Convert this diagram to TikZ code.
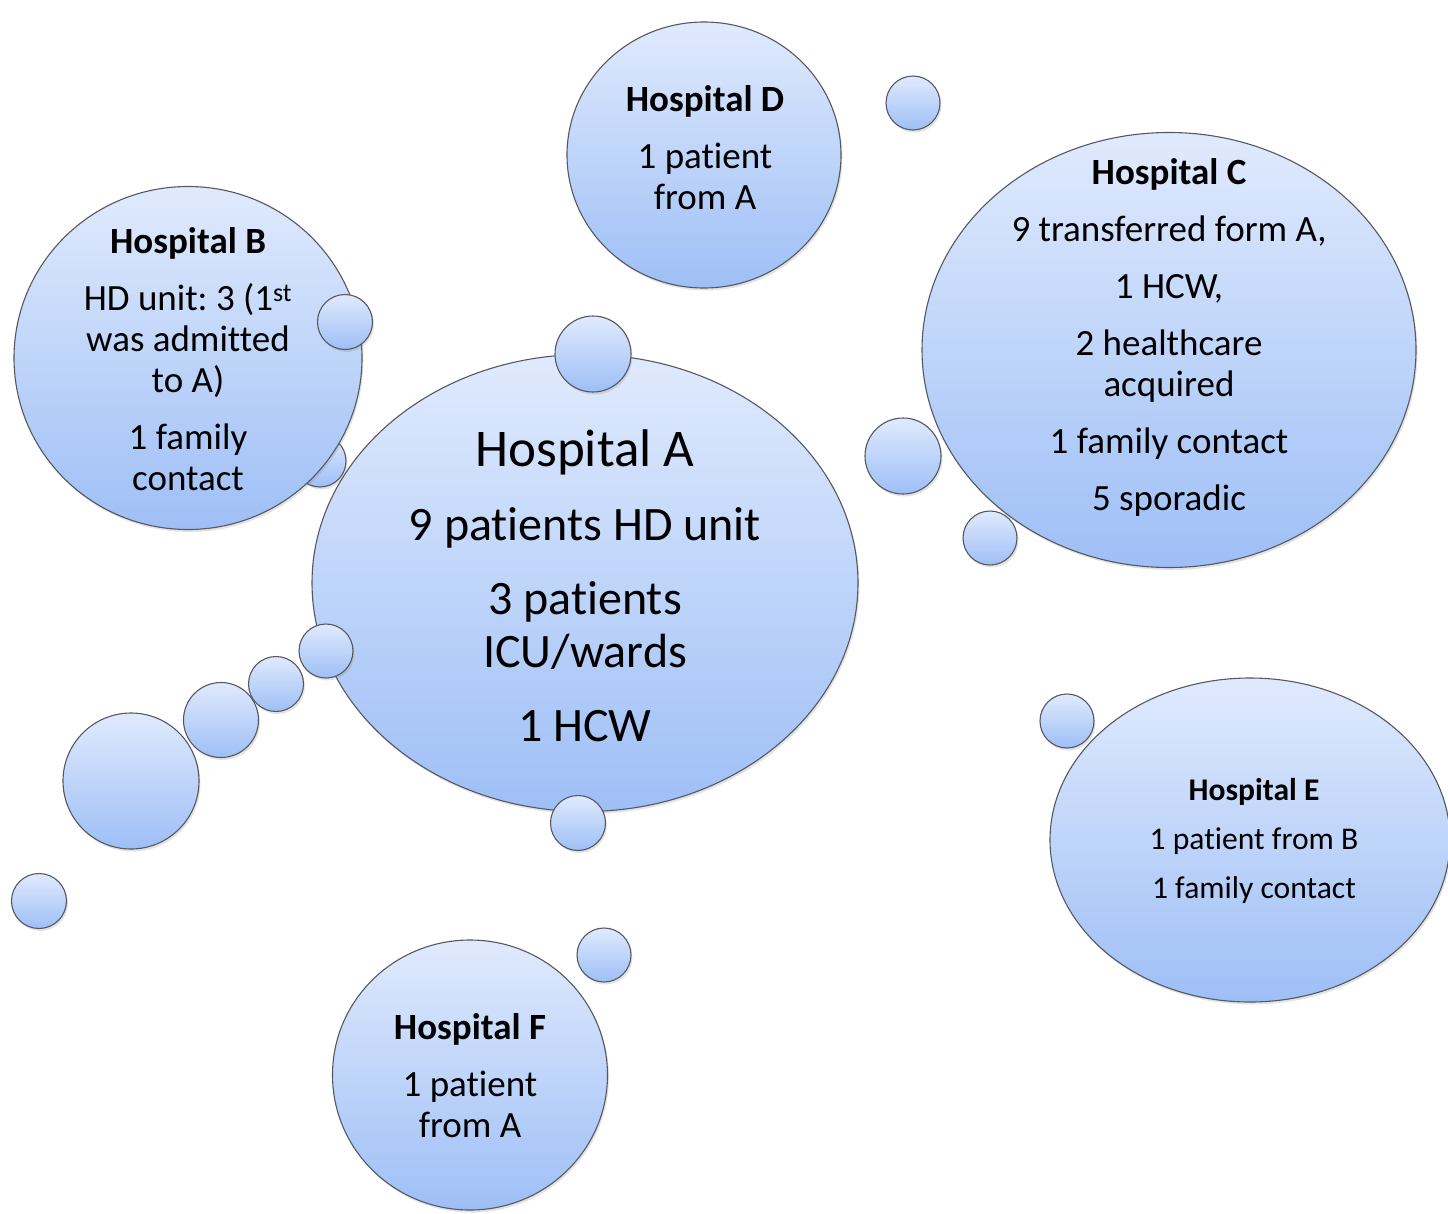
\documentclass[tikz,border=0pt]{standalone}
\usepackage{fontspec}
\setmainfont{Carlito}[Ligatures={NoCommon}]
\usetikzlibrary{shapes.geometric,shadows}
\definecolor{bubtop}{RGB}{224,234,253}
\definecolor{bubbot}{RGB}{158,191,246}
\definecolor{bubline}{RGB}{85,88,95}
\tikzset{
  bubshape/.style={inner sep=0pt, draw=bubline, line width=1.1pt,
    top color=bubtop, bottom color=bubbot,
    drop shadow={opacity=0.22, shadow xshift=1.5pt, shadow yshift=-2.5pt}},
  bub/.style={bubshape, circle, minimum size=#1},
  hosp/.style={bubshape, ellipse},
  btext/.style={align=center, text=black, execute at begin node=\frenchspacing},
  midfont/.style={font=\fontsize{37}{41}\selectfont},
}
\begin{document}
\begin{tikzpicture}[x=1pt,y=-1pt]
\useasboundingbox (0,0) rectangle (1448,1213);
% bubble behind A and B
\node[bub=52] (s3) at (320,461) {};
% Hospital A
\node[hosp, minimum width=546, minimum height=457] (hA) at (585,583) {};
% Hospital B
\node[hosp, minimum width=348, minimum height=343] (hB) at (188,358) {};
% Hospital D
\node[hosp, minimum width=274, minimum height=266] (hD) at (704,155) {};
% Hospital C
\node[hosp, minimum width=494, minimum height=435] (hC) at (1169,350) {};
% Hospital E
\node[hosp, minimum width=400, minimum height=324] (hE) at (1250,840) {};
% Hospital F
\node[hosp, minimum width=275, minimum height=270] (hF) at (470,1075) {};
% small bubbles
\node[bub=54] (s1) at (913,103) {};
\node[bub=55] (s2) at (345,322) {};
\node[bub=76] (s4) at (593,354) {};
\node[bub=76] (s5) at (903,456) {};
\node[bub=54] (s6) at (990,538) {};
\node[bub=54] (s7) at (326,651) {};
\node[bub=55] (s8) at (276,684) {};
\node[bub=75] (s9) at (221,720) {};
\node[bub=136] (s10) at (131,781) {};
\node[bub=55] (s11) at (39,901) {};
\node[bub=55] (s12) at (578,823) {};
\node[bub=54] (s13) at (604,955) {};
\node[bub=54] (s14) at (1067,721) {};
% texts
\node[btext, font=\fontsize{48}{53}\selectfont] (tA) at (585,586)
  {{\fontsize{53}{53}\selectfont Hospital A}\\[21pt]9 patients HD unit\\[21pt]3 patients\\ICU/wards\\[21pt]1 HCW};
\node[btext, midfont] (tB) at (188,359)
  {\textbf{Hospital B}\\[16pt]HD unit: 3 (1\textsuperscript{st}\\was admitted\\to A)\\[16pt]1 family\\contact};
\node[btext, midfont] (tD) at (705,148)
  {\textbf{Hospital D}\\[16pt]1 patient\\from A};
\node[btext, midfont] (tC) at (1169,337)
  {\textbf{Hospital C}\\[16pt]9 transferred form A,\\[16pt]1 HCW,\\[16pt]2 healthcare\\acquired\\[16pt]1 family contact\\[16pt]5 sporadic};
\node[btext, font=\fontsize{31.6}{36}\selectfont] (tE) at (1254,841)
  {\textbf{Hospital E}\\[13pt]1 patient from B\\[13pt]1 family contact};
\node[btext, midfont] (tF) at (470,1076)
  {\textbf{Hospital F}\\[16pt]1 patient\\from A};
\end{tikzpicture}
\end{document}
